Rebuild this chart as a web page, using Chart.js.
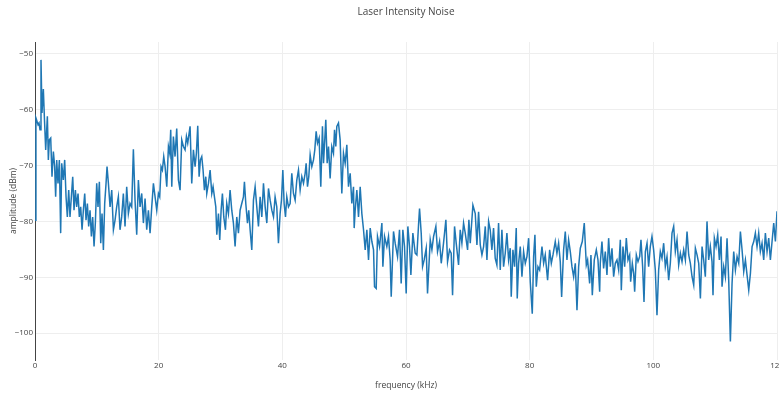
<!DOCTYPE html>
<html>
<head>
<meta charset="utf-8">
<script src="https://cdn.jsdelivr.net/npm/chart.js@4.4.1/dist/chart.umd.min.js"></script>
<style>
  html, body { margin: 0; padding: 0; background: #fff; overflow: hidden; }
  #wrap { width: 779px; height: 394px; overflow: hidden; position: relative; }
  canvas { display: block; }
</style>
</head>
<body>
<div id="wrap"><canvas id="noise" width="812" height="394"></canvas></div>
<script>
// Measured noise spectrum: frequency (kHz) and amplitude (dBm)
const freqKHz = [
  0, 0.15, 0.27, 0.49, 0.65, 0.81, 0.97, 1.13, 1.35, 1.51, 1.73, 2.00, 2.16, 2.32, 2.54, 2.75, 2.97, 3.18, 3.34, 3.51,
  3.72, 3.94, 4.15, 4.32, 4.58, 4.80, 5.02, 5.23, 5.45, 5.66, 5.88, 6.10, 6.31, 6.53, 6.74, 6.96, 7.17, 7.39, 7.61, 7.82,
  8.04, 8.25, 8.47, 8.68, 8.90, 9.12, 9.33, 9.55, 9.76, 9.98, 10.19, 10.41, 10.63, 10.84, 11.06, 11.27, 11.49, 11.65, 11.87, 12.14,
  12.41, 12.68, 12.94, 13.21, 13.48, 13.75, 14.02, 14.29, 14.56, 14.83, 15.10, 15.37,
  15.64, 15.91, 16.18, 16.45, 16.72, 16.99, 17.26, 17.53, 17.80, 18.07, 18.34, 18.61, 18.88, 19.15, 19.42, 19.69, 19.96, 20.17,
  20.39, 20.60, 20.82, 21.04, 21.31, 21.58, 21.79, 21.95, 22.12, 22.38, 22.65, 22.92, 23.19, 23.46, 23.73, 24.00, 24.27, 24.49,
  24.70, 25.08, 25.35, 25.62, 25.89, 26.10, 26.32, 26.54, 26.75, 26.97, 27.18, 27.40, 27.62, 27.78, 28.05, 28.32, 28.59, 28.80,
  29.02, 29.24, 29.40, 29.67, 29.88, 30.10, 30.31, 30.53,
  30.80, 31.01, 31.28, 31.55, 31.82, 32.09, 32.36, 32.63, 32.90, 33.17, 33.44, 33.71, 33.87, 34.09, 34.36, 34.57, 34.79, 35.06,
  35.33, 35.60, 35.87, 36.14, 36.41, 36.68, 36.95, 37.22, 37.49, 37.76, 38.03, 38.30, 38.57, 38.83, 39.10, 39.37, 39.64, 39.86,
  40.08, 40.29, 40.51, 40.72, 40.99, 41.26, 41.53, 41.80, 42.07, 42.34, 42.61, 42.88, 43.15, 43.42, 43.69, 43.85, 44.07, 44.28,
  44.50, 44.77, 45.04, 45.25, 45.47, 45.69, 45.95,
  46.22, 46.49, 46.66, 47.03, 47.25, 47.47, 47.73, 48.00, 48.27, 48.44, 48.65, 48.81, 49.08, 49.35, 49.62, 49.89, 50.16, 50.43,
  50.70, 50.97, 51.24, 51.51, 51.62, 51.78, 52.05, 52.32, 52.59, 52.86,
  53.13, 53.40, 53.67, 53.94, 54.21, 54.48, 54.75, 54.91, 55.18, 55.39, 55.72, 56.10, 56.26, 56.53, 56.90, 57.17, 57.44, 57.61,
  57.98, 58.25, 58.63, 58.95, 59.22, 59.49, 59.76, 60.03, 60.30, 60.57, 60.79, 61.11, 61.49, 61.76, 62.03, 62.19, 62.46, 62.68,
  62.94, 63.27, 63.48, 63.92, 64.19, 64.46, 64.83, 65.10, 65.43, 65.70, 66.07, 66.45, 66.72, 67.04, 67.31, 67.53, 67.85, 68.12,
  68.50, 68.77, 69.04, 69.31, 69.58, 69.96, 70.17, 70.39, 70.82, 71.20, 71.47, 71.74,
  72.01, 72.28, 72.55, 72.82, 73.09, 73.36, 73.62, 73.89, 74.16, 74.43, 74.70, 74.97, 75.24, 75.51, 75.78, 76.05, 76.32, 76.59,
  76.86, 77.02, 77.29, 77.56, 77.83, 77.99, 78.21, 78.48, 78.75, 79.02, 79.29, 79.56, 79.83, 80.10, 80.42, 80.64, 80.85, 81.07,
  81.34, 81.61, 81.99, 82.26, 82.52, 82.90, 83.23, 83.50, 83.77, 84.14, 84.41, 84.68, 84.95, 85.17, 85.49, 85.76, 86.03, 86.30,
  86.57, 86.84, 87.11, 87.38, 87.65, 87.92, 88.19, 88.51, 88.83, 89.16, 89.37, 89.70, 89.91, 90.13, 90.45, 90.78, 91.05, 91.32,
  91.42, 91.69, 91.96, 92.23, 92.50, 92.77, 93.04, 93.31, 93.58, 93.85, 94.12, 94.39, 94.66, 94.82, 95.09, 95.36, 95.63, 95.90,
  96.17, 96.33, 96.60, 96.82, 96.98, 97.25, 97.52, 97.79, 98.00, 98.27, 98.49, 98.71, 98.98, 99.24, 99.51, 99.78, 100.05, 100.32,
  100.59, 100.86, 101.13, 101.40, 101.67, 101.94, 102.21, 102.48, 102.75, 103.02, 103.29, 103.56, 103.83, 104.10, 104.37, 104.64, 104.91, 105.18,
  105.45, 105.72, 105.99, 106.26, 106.53, 106.80, 107.07, 107.34, 107.61,
  107.88, 108.14, 108.41, 108.68, 108.95, 109.22, 109.49, 109.65, 109.87, 110.14, 110.41, 110.68, 110.95, 111.11, 111.38, 111.65, 111.92, 112.19,
  112.46, 112.73, 113.00, 113.27, 113.54, 113.81, 114.08, 114.35, 114.62, 114.89, 115.16, 115.43, 115.70, 115.97, 116.24, 116.50, 116.77, 117.04,
  117.31, 117.58, 117.85, 118.12, 118.39, 118.66, 118.93, 119.20, 119.47, 119.74, 120.00
];

const amplitudeDbm = [
  -79.8, -61.5, -61.9, -62.7, -62.4, -63.6, -51.1, -60.6, -56.3, -61.2, -67.2, -61.2, -69.0, -65.4, -65.1, -72.0, -67.5, -70.2, -75.6, -69.0,
  -73.2, -69.0, -82.1, -69.6, -72.6, -69.0, -75.6, -79.2, -74.4, -79.2, -75.6, -72.0, -78.0, -74.4, -77.4, -75.0, -79.2, -77.4, -81.5, -78.0,
  -75.0, -79.8, -76.8, -80.9, -78.0, -82.7, -79.2, -84.5, -80.3, -73.2, -77.4, -72.9, -83.9, -78.6, -85.1, -76.8, -73.2, -70.2, -73.2, -77.4,
  -74.4, -81.5, -79.8, -77.4, -75.6, -81.5, -79.2, -75.0, -80.9, -73.8, -78.6, -76.8,
  -77.4, -67.1, -76.2, -82.4, -72.6, -77.4, -75.0, -80.3, -75.9, -81.5, -78.0, -82.1, -77.4, -73.2, -75.6, -78.0, -75.0, -75.6,
  -70.2, -70.8, -68.4, -70.2, -73.8, -66.6, -67.8, -63.6, -73.8, -64.8, -68.4, -63.4, -72.6, -74.4, -65.4, -66.6, -67.2, -64.8,
  -66.0, -63.0, -73.2, -67.2, -70.2, -67.8, -62.9, -72.0, -69.0, -68.4, -70.8, -74.4, -72.0, -75.0, -73.2, -70.8, -75.0, -73.8,
  -75.6, -77.4, -82.4, -78.6, -83.3, -78.0, -75.0, -79.2,
  -81.5, -76.8, -78.6, -74.4, -78.0, -80.3, -84.5, -79.2, -82.1, -78.0, -76.8, -75.6, -72.9, -76.8, -80.3, -78.0, -81.5, -85.1,
  -76.2, -73.8, -77.4, -80.9, -75.6, -79.2, -73.2, -77.4, -80.3, -74.1, -76.2, -78.0, -79.2, -75.6, -77.4, -83.9, -78.6, -76.2,
  -70.8, -76.8, -79.2, -75.6, -77.4, -76.8, -71.4, -75.0, -76.2, -72.6, -70.8, -74.4, -72.0, -73.2, -71.4, -69.6, -73.8, -72.0,
  -68.1, -70.2, -69.0, -67.2, -63.9, -66.0, -65.1,
  -73.8, -63.0, -69.6, -61.8, -69.6, -66.6, -72.3, -66.6, -67.8, -63.6, -66.6, -63.0, -62.4, -65.4, -75.0, -67.8, -69.6, -66.3,
  -73.8, -71.4, -76.8, -73.8, -81.2, -78.0, -74.4, -79.2, -73.8, -78.6,
  -81.5, -85.1, -81.5, -86.9, -81.2, -83.6, -85.1, -91.7, -92.0, -82.7, -84.5, -80.3, -88.1, -82.7, -84.5, -82.7, -86.9, -93.5,
  -81.8, -83.9, -86.3, -81.5, -91.1, -81.5, -84.5, -92.9, -80.9, -84.5, -89.6, -82.1, -85.7, -86.0, -80.6, -77.7, -82.1, -88.1,
  -86.9, -84.8, -92.9, -83.3, -85.1, -82.7, -80.9, -85.4, -83.6, -87.5, -83.9, -79.7, -87.2, -85.1, -85.7, -93.2, -80.9, -83.9,
  -87.8, -81.5, -83.9, -80.3, -82.1, -85.1, -79.7, -83.9, -77.1, -78.6, -84.2, -78.3,
  -84.2, -86.0, -84.5, -80.9, -86.9, -80.0, -81.5, -85.1, -81.2, -86.6, -87.8, -80.3, -88.7, -81.5, -88.1, -85.7, -82.1, -86.9,
  -84.8, -93.5, -85.1, -88.1, -81.2, -93.8, -87.5, -84.5, -89.9, -85.4, -87.5, -86.3, -83.0, -90.8, -96.5, -86.3, -82.4, -91.7,
  -88.1, -88.7, -84.5, -87.5, -86.0, -90.5, -85.1, -87.5, -86.0, -83.6, -85.7, -83.9, -87.2, -93.5, -85.1, -81.8, -86.9, -83.3,
  -85.4, -88.1, -89.9, -87.5, -95.9, -88.1, -84.8, -83.6, -80.3, -87.8, -86.9, -91.1, -86.0, -93.2, -86.9, -85.1, -86.9, -92.6,
  -87.5, -83.6, -88.4, -85.4, -89.6, -83.0, -88.1, -84.8, -89.9, -87.5, -86.9, -88.7, -83.3, -92.3, -84.5, -88.1, -83.0, -86.9,
  -86.0, -90.8, -87.5, -89.3, -92.6, -86.0, -87.2, -86.3, -83.3, -88.1, -94.4, -85.4, -83.9, -88.1, -84.5, -82.7, -85.1, -88.7,
  -96.8, -88.7, -85.4, -86.6, -83.9, -88.1, -86.3, -90.5, -87.5, -82.1, -80.9, -85.4, -83.3, -87.8, -85.7, -87.2, -85.1, -86.9,
  -81.8, -86.0, -87.5, -89.9, -91.4, -84.8, -86.0, -87.5, -93.8,
  -84.5, -86.9, -89.9, -80.0, -86.9, -84.5, -87.2, -93.2, -83.0, -84.5, -82.4, -86.9, -82.7, -91.7, -88.1, -89.9, -83.0, -90.5,
  -101.5, -91.1, -85.4, -88.7, -86.3, -87.5, -81.8, -85.1, -89.0, -86.9, -89.6, -92.3, -89.3, -84.5, -83.6, -82.1, -84.5, -82.1,
  -85.4, -83.9, -86.9, -82.1, -85.4, -83.0, -86.9, -83.6, -80.3, -83.6, -78.2
];

const xTickValues = [0, 20, 40, 60, 80, 100, 120];
const yTickValues = [-100, -90, -80, -70, -60, -50];

const TEXT = '#444';
const GRID = '#eeeeee';
const FONT = 'Open Sans';

const minusSign = v => String(v).replace('-', '\u2212');

const points = freqKHz.map((f, i) => ({ x: f, y: amplitudeDbm[i] }));

new Chart(document.getElementById('noise'), {
  type: 'line',
  data: {
    datasets: [{
      data: points,
      borderColor: '#1f77b4',
      borderWidth: 1.5,
      pointRadius: 0,
      tension: 0,
      fill: false
    }]
  },
  options: {
    responsive: false,
    animation: false,
    devicePixelRatio: 1,
    events: [],
    layout: { padding: { left: 0, right: 35, top: 0, bottom: 0 } },
    plugins: {
      legend: { display: false },
      tooltip: { enabled: false },
      title: {
        display: true,
        fullSize: false,
        text: 'Laser Intensity Noise',
        color: TEXT,
        font: { family: FONT, size: 10, weight: 'normal' },
        padding: { top: 6, bottom: 24 }
      }
    },
    scales: {
      x: {
        type: 'linear',
        min: 0,
        max: 120,
        afterBuildTicks: s => { s.ticks = xTickValues.map(v => ({ value: v })); },
        afterFit: s => { s.height = 34; },
        border: { display: false },
        grid: { color: GRID, drawTicks: false, lineWidth: 1 },
        ticks: {
          color: TEXT,
          font: { family: FONT, size: 8 },
          padding: 1,
          maxRotation: 0,
          autoSkip: false,
          callback: minusSign
        },
        title: {
          display: true,
          text: 'frequency (kHz)',
          color: TEXT,
          font: { family: FONT, size: 8.5 },
          padding: { top: 0, bottom: 3 }
        }
      },
      y: {
        type: 'linear',
        min: -104.8,
        max: -47.9,
        afterBuildTicks: s => { s.ticks = yTickValues.map(v => ({ value: v })); },
        afterFit: s => { s.width = 35; },
        border: { display: true, color: TEXT, width: 1 },
        grid: { color: GRID, drawTicks: false, lineWidth: 1 },
        ticks: {
          color: TEXT,
          font: { family: FONT, size: 8 },
          padding: 2,
          callback: minusSign
        },
        title: {
          display: true,
          text: 'amplitude (dBm)',
          color: TEXT,
          font: { family: FONT, size: 8.5 },
          padding: { top: 8, bottom: 0 }
        }
      }
    }
  }
});
</script>
</body>
</html>
